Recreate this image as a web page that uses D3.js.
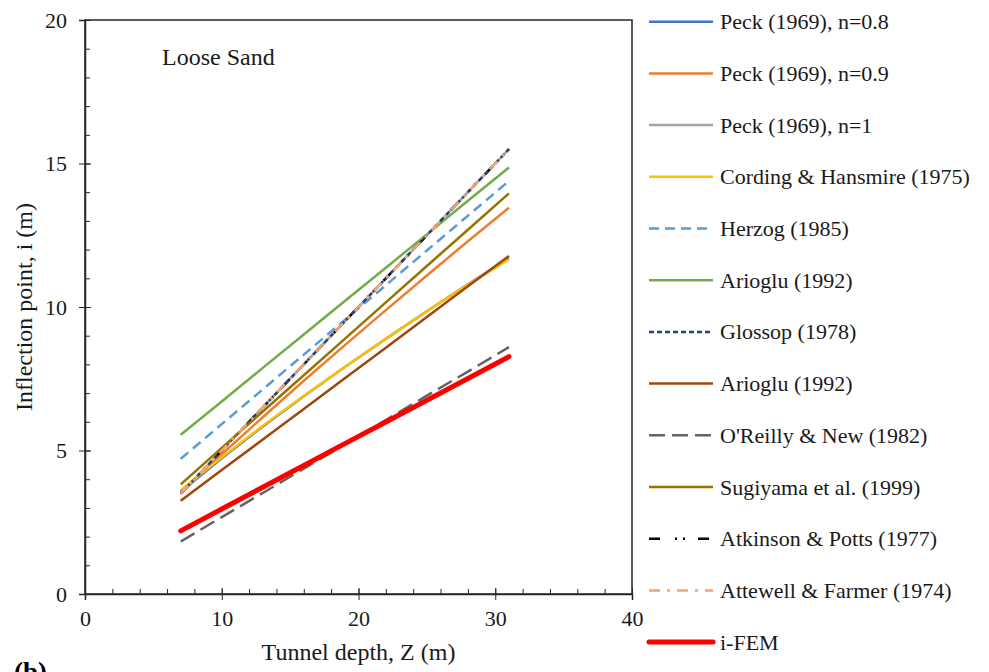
<!DOCTYPE html>
<html>
<head>
<meta charset="utf-8">
<script src="https://cdn.jsdelivr.net/npm/d3@7"></script>
<style>
  body { margin: 0; background: #fff; }
  svg text { font-family: "Liberation Serif", Tinos, "Times New Roman", "DejaVu Serif", serif !important; }
  .axis path, .axis line { stroke: #262626; }
  .axis text { font-size: 22px; fill: #1a1a1a; }
</style>
</head>
<body>
<div id="chart"></div>
<script>
// Tunnel depths shared by every series (m)
const depths = [7, 10, 13, 16, 19, 22, 25, 28, 31];

// Inflection point values (m)
const peck08 = [3.56, 4.73, 5.84, 6.89, 7.91, 8.89, 9.85, 10.79, 11.70];
const peck09 = [3.53, 4.87, 6.16, 7.43, 8.67, 9.89, 11.10, 12.29, 13.46];
const peck10 = [3.5, 5.0, 6.5, 8.0, 9.5, 11.0, 12.5, 14.0, 15.5];
const cording = [3.62, 4.76, 5.86, 6.90, 7.91, 8.89, 9.85, 10.78, 11.66];
const herzog = [4.71, 5.92, 7.13, 8.34, 9.55, 10.76, 11.97, 13.18, 14.39];
const arioglu1 = [5.55, 6.71, 7.88, 9.04, 10.21, 11.37, 12.53, 13.70, 14.86];
const glossop = [3.5, 5.0, 6.5, 8.0, 9.5, 11.0, 12.5, 14.0, 15.5];
const arioglu2 = [3.25, 4.32, 5.38, 6.45, 7.52, 8.58, 9.65, 10.72, 11.78];
const oreilly = [1.83, 2.68, 3.52, 4.37, 5.21, 6.06, 6.91, 7.75, 8.60];
const sugiyama = [3.82, 5.09, 6.36, 7.62, 8.89, 10.16, 11.43, 12.69, 13.96];
const atkinson = [3.5, 5.0, 6.5, 8.0, 9.5, 11.0, 12.5, 14.0, 15.5];
const attewell = [3.5, 5.0, 6.5, 8.0, 9.5, 11.0, 12.5, 14.0, 15.5];
const ifem = [2.20, 2.96, 3.72, 4.48, 5.24, 5.99, 6.75, 7.51, 8.27];

const seriesNames = [
  'Peck (1969), n=0.8', 'Peck (1969), n=0.9', 'Peck (1969), n=1',
  'Cording & Hansmire (1975)', 'Herzog (1985)', 'Arioglu (1992)',
  'Glossop (1978)', 'Arioglu (1992)', "O'Reilly & New (1982)",
  'Sugiyama et al. (1999)', 'Atkinson & Potts (1977)',
  'Attewell & Farmer (1974)', 'i-FEM'
];
const seriesValues = [peck08, peck09, peck10, cording, herzog, arioglu1,
  glossop, arioglu2, oreilly, sugiyama, atkinson, attewell, ifem];
const seriesColors = ['#4472C4', '#ED7D31', '#A5A5A5', '#FFC000', '#5B9BD5',
  '#70AD47', '#264478', '#9E480E', '#636363', '#997300', '#000000',
  '#F4A46E', '#FF0000'];
const seriesDash = [null, null, null, null, '10,6', null, '5,3', null, '16,7',
  null, '11,15,2,6,2,13', '11,7,3,7', null];
const seriesWidth = [2.5, 2.5, 2.5, 2.5, 2.5, 2.5, 2.5, 2.5, 2.5, 2.5, 2.5, 2.5, 5];
// drawing order (overlapping lines: navy dashes end up most visible)
const drawOrder = [0, 1, 2, 10, 3, 4, 5, 6, 7, 8, 9, 11, 12];

const xTicks = [0, 10, 20, 30, 40];
const yTicks = [0, 5, 10, 15, 20];

const width = 989, height = 672;
const plot = { left: 85, right: 632, top: 20, bottom: 594 };

const svg = d3.select('#chart').append('svg')
  .attr('width', width)
  .attr('height', height);

const x = d3.scaleLinear().domain([0, 40]).range([plot.left, plot.right]);
const y = d3.scaleLinear().domain([0, 20]).range([plot.bottom, plot.top]);

// Plot frame
svg.append('rect')
  .attr('x', plot.left).attr('y', plot.top)
  .attr('width', plot.right - plot.left).attr('height', plot.bottom - plot.top)
  .attr('fill', 'none').attr('stroke', '#262626').attr('stroke-width', 1.5);

// Minor ticks (inside)
svg.append('g').attr('class', 'axis')
  .attr('transform', `translate(${plot.left},0)`)
  .call(d3.axisRight(y).tickValues(d3.range(0, 21, 1)).tickSize(5).tickFormat(''))
  .call(g => g.select('.domain').remove());
svg.append('g').attr('class', 'axis')
  .attr('transform', `translate(0,${plot.bottom})`)
  .call(d3.axisTop(x).tickValues(d3.range(0, 41, 2)).tickSize(5).tickFormat(''))
  .call(g => g.select('.domain').remove());

// Major ticks cross the axis
svg.append('g').attr('class', 'axis')
  .attr('transform', `translate(${plot.left},0)`)
  .call(d3.axisRight(y).tickValues(yTicks).tickSize(6).tickFormat(''))
  .call(g => g.select('.domain').remove());
svg.append('g').attr('class', 'axis')
  .attr('transform', `translate(0,${plot.bottom})`)
  .call(d3.axisTop(x).tickValues(xTicks).tickSize(6).tickFormat(''))
  .call(g => g.select('.domain').remove());

const yAxis = svg.append('g').attr('class', 'axis')
  .attr('transform', `translate(${plot.left},0)`)
  .call(d3.axisLeft(y).tickValues(yTicks).tickSize(6).tickPadding(12))
  .call(g => g.select('.domain').attr('stroke-width', 1.5));
yAxis.selectAll('text').attr('dy', '0.34em');

svg.append('g').attr('class', 'axis')
  .attr('transform', `translate(0,${plot.bottom})`)
  .call(d3.axisBottom(x).tickValues(xTicks).tickSize(6).tickPadding(10))
  .call(g => g.select('.domain').attr('stroke-width', 1.5));

// Series lines
const line = d3.line()
  .x((d, i) => x(depths[i]))
  .y(d => y(d));

drawOrder.forEach(k => {
  svg.append('path')
    .datum(seriesValues[k])
    .attr('fill', 'none')
    .attr('stroke', seriesColors[k])
    .attr('stroke-width', seriesWidth[k])
    .attr('stroke-dasharray', seriesDash[k])
    .attr('stroke-linecap', k === 12 ? 'round' : 'butt')
    .attr('d', line);
});

// Annotation
svg.append('text')
  .attr('x', 162).attr('y', 65)
  .attr('font-size', 24).attr('fill', '#1a1a1a')
  .text('Loose Sand');

// Axis titles
svg.append('text')
  .attr('x', (plot.left + plot.right) / 2).attr('y', 660)
  .attr('text-anchor', 'middle').attr('font-size', 24).attr('fill', '#1a1a1a')
  .text('Tunnel depth, Z (m)');
svg.append('text')
  .attr('transform', `translate(32,${(plot.top + plot.bottom) / 2}) rotate(-90)`)
  .attr('text-anchor', 'middle').attr('font-size', 24).attr('fill', '#1a1a1a')
  .text('Inflection point, i (m)');

// Panel label (cut at the bottom edge, as in the original figure)
svg.append('text')
  .attr('x', 14).attr('y', 681)
  .attr('font-size', 27).attr('font-weight', 'bold').attr('fill', '#000')
  .text('(b)');

// Legend
const legend = svg.append('g');
seriesNames.forEach((name, k) => {
  const ly = 21.7 + k * 51.7;
  legend.append('line')
    .attr('x1', 649).attr('x2', 713).attr('y1', ly).attr('y2', ly)
    .attr('stroke', seriesColors[k])
    .attr('stroke-width', seriesWidth[k])
    .attr('stroke-dasharray', seriesDash[k])
    .attr('stroke-linecap', k === 12 ? 'round' : 'butt');
  legend.append('text')
    .attr('x', 720).attr('y', ly + 7.5)
    .attr('font-size', 22).attr('fill', '#1a1a1a')
    .text(name);
});
</script>
</body>
</html>
